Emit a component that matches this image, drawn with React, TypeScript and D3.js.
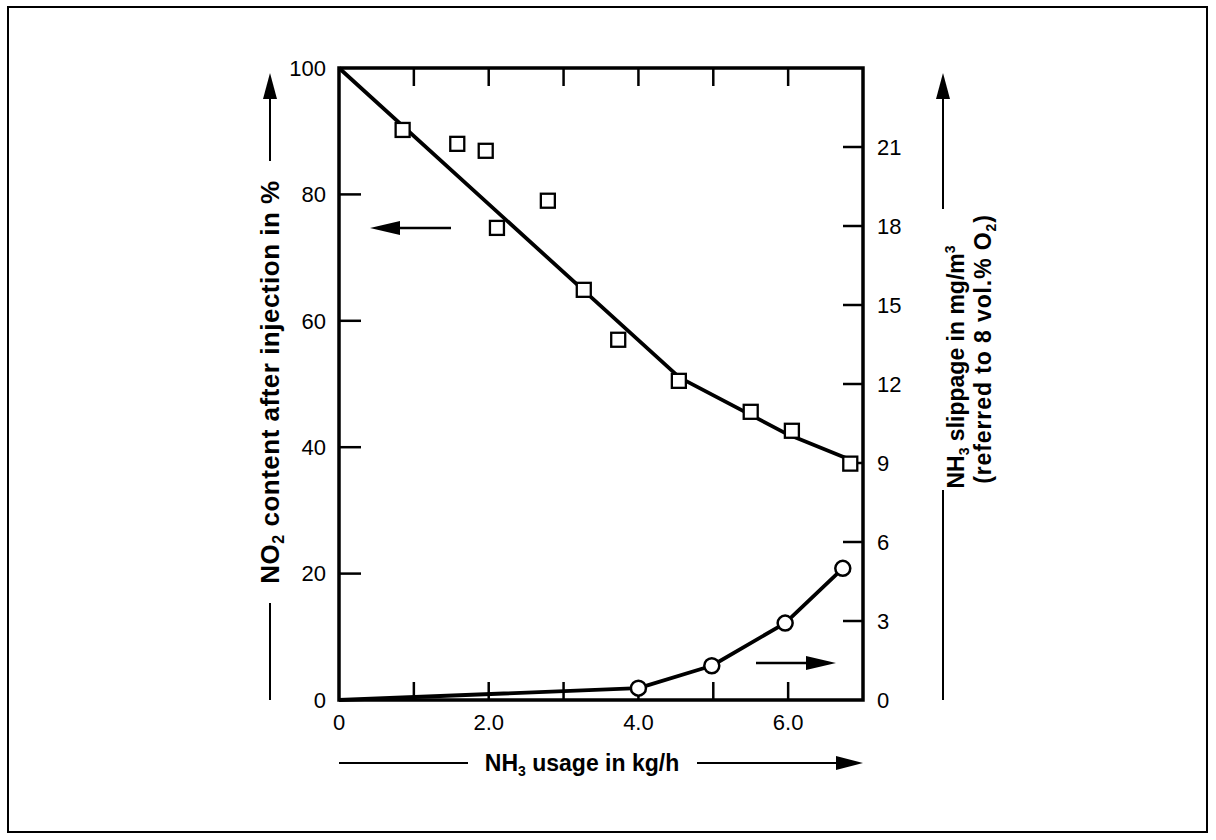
import React from "react";
import * as d3 from "d3";

// NO2 content (left axis, %)
const no2X = [0.85, 1.58, 1.96, 2.11, 2.79, 3.27, 3.73, 4.54, 5.5, 6.05, 6.83];
const no2Y = [90.2, 88.0, 86.9, 74.7, 79.0, 64.9, 57.0, 50.5, 45.6, 42.6, 37.4];
// fitted curve through NO2 points
const fitX = [0, 3.9, 4.55, 6.0, 6.83];
const fitY = [100, 58, 51, 42, 38];
// NH3 slippage (right axis, mg/m3)
const slipX = [4.0, 4.98, 5.96, 6.73];
const slipY = [0.45, 1.3, 2.92, 5.0];

const xTicks = [1, 2, 3, 4, 5, 6];
const xLabels = [0, 2, 4, 6];
const leftTicks = [0, 20, 40, 60, 80, 100];
const rightTicks = [0, 3, 6, 9, 12, 15, 18, 21];

const FONT = "'Liberation Sans', Arial, Helvetica, sans-serif";

function App() {
  const left = 339, right = 863, top = 68, bottom = 700;

  const x = d3.scaleLinear().domain([0, 7]).range([left, right]);
  const yL = d3.scaleLinear().domain([0, 100]).range([bottom, top]);
  const yR = d3.scaleLinear().domain([0, 24]).range([bottom, top]);

  const fitLine = d3.line<number>()
    .x((d, i) => x(fitX[i]))
    .y(d => yL(d));
  const slipLine = d3.line<[number, number]>()
    .x(d => x(d[0]))
    .y(d => yR(d[1]));
  const slipPts: [number, number][] = [[0, 0], ...slipX.map((v, i) => [v, slipY[i]] as [number, number])];

  const sq = 14;

  return (
    <svg width={1216} height={840} style={{position: "absolute", left: 0, top: 0}}
      fontFamily={FONT}>
      <rect x={0} y={0} width={1216} height={840} fill="#fff" />
      <rect x={8} y={7} width={1199} height={825} fill="none" stroke="#000" strokeWidth={2} />

      {/* frame */}
      <rect x={left} y={top} width={right - left} height={bottom - top} fill="none" stroke="#000" strokeWidth={3.5} />

      {/* x ticks, top and bottom */}
      {xTicks.map(t => (
        <g key={"xt" + t}>
          <line x1={x(t)} x2={x(t)} y1={bottom} y2={bottom - 18} stroke="#000" strokeWidth={2.5} />
          <line x1={x(t)} x2={x(t)} y1={top} y2={top + 18} stroke="#000" strokeWidth={2.5} />
        </g>
      ))}
      {xLabels.map(t => (
        <text key={"xl" + t} x={x(t)} y={730} fontSize={22} textAnchor="middle">
          {t === 0 ? "0" : d3.format(".1f")(t)}
        </text>
      ))}

      {/* left axis */}
      {leftTicks.map(t => (
        <g key={"yl" + t}>
          {t > 0 && t < 100 && (
            <line x1={left} x2={left + 22} y1={yL(t)} y2={yL(t)} stroke="#000" strokeWidth={2.5} />
          )}
          <text x={326} y={yL(t)} dy="0.35em" fontSize={22} textAnchor="end">{t}</text>
        </g>
      ))}

      {/* right axis */}
      {rightTicks.map(t => (
        <g key={"yr" + t}>
          {t > 0 && (
            <line x1={right} x2={right - 20} y1={yR(t)} y2={yR(t)} stroke="#000" strokeWidth={2.5} />
          )}
          <text x={877} y={yR(t)} dy="0.35em" fontSize={22} textAnchor="start">{t}</text>
        </g>
      ))}

      {/* NO2 curve and squares */}
      <path d={fitLine(fitY) || ""} fill="none" stroke="#000" strokeWidth={3.8} strokeLinejoin="round" />
      {no2X.map((v, i) => (
        <rect key={"sq" + i} x={x(v) - sq / 2} y={yL(no2Y[i]) - sq / 2} width={sq} height={sq}
          fill="#fff" stroke="#000" strokeWidth={2.3} />
      ))}

      {/* NH3 slippage curve and circles */}
      <path d={slipLine(slipPts) || ""} fill="none" stroke="#000" strokeWidth={3.8} strokeLinejoin="round" />
      {slipX.map((v, i) => (
        <circle key={"c" + i} cx={x(v)} cy={yR(slipY[i])} r={7.5} fill="#fff" stroke="#000" strokeWidth={2.5} />
      ))}

      {/* series arrows */}
      <line x1={451} x2={395} y1={228} y2={228} stroke="#000" strokeWidth={2.5} />
      <polygon points="370,228 400,221 400,235" fill="#000" />
      <line x1={756} x2={810} y1={663} y2={663} stroke="#000" strokeWidth={2.5} />
      <polygon points="836,663 806,656 806,670" fill="#000" />

      {/* x title */}
      <line x1={left} x2={468} y1={763} y2={763} stroke="#000" strokeWidth={2} />
      <line x1={697} x2={840} y1={763} y2={763} stroke="#000" strokeWidth={2} />
      <polygon points="863,763 836,756 836,770" fill="#000" />
      <text x={582} y={771} fontSize={23} fontWeight="bold" textAnchor="middle">
        NH<tspan fontSize={14} dy={5}>3</tspan><tspan dy={-5}> usage in kg/h</tspan>
      </text>

      {/* left title */}
      <line x1={270} x2={270} y1={700} y2={603} stroke="#000" strokeWidth={2} />
      <line x1={270} x2={270} y1={161} y2={96} stroke="#000" strokeWidth={2} />
      <polygon points="270,73 263,99 277,99" fill="#000" />
      <text transform="translate(279,382) rotate(-90)" fontSize={26} fontWeight="bold" textAnchor="middle"
        letterSpacing={0.5}>
        NO<tspan fontSize={16} dy={5}>2</tspan><tspan dy={-5}> content after injection in %</tspan>
      </text>

      {/* right title */}
      <line x1={943} x2={943} y1={700} y2={490} stroke="#000" strokeWidth={2} />
      <line x1={943} x2={943} y1={209} y2={96} stroke="#000" strokeWidth={2} />
      <polygon points="943,73 936,99 950,99" fill="#000" />
      <text transform="translate(964,367) rotate(-90)" fontSize={23} fontWeight="bold" textAnchor="middle">
        NH<tspan fontSize={14} dy={5}>3</tspan><tspan dy={-5}> slippage in mg/m</tspan><tspan fontSize={14} dy={-9}>3</tspan>
      </text>
      <text transform="translate(991,349) rotate(-90)" fontSize={23} fontWeight="bold" textAnchor="middle"
        letterSpacing={0.9}>
        (referred to 8 vol.% O<tspan fontSize={14} dy={5}>2</tspan><tspan dy={-5}>)</tspan>
      </text>
    </svg>
  );
}

export default App;
